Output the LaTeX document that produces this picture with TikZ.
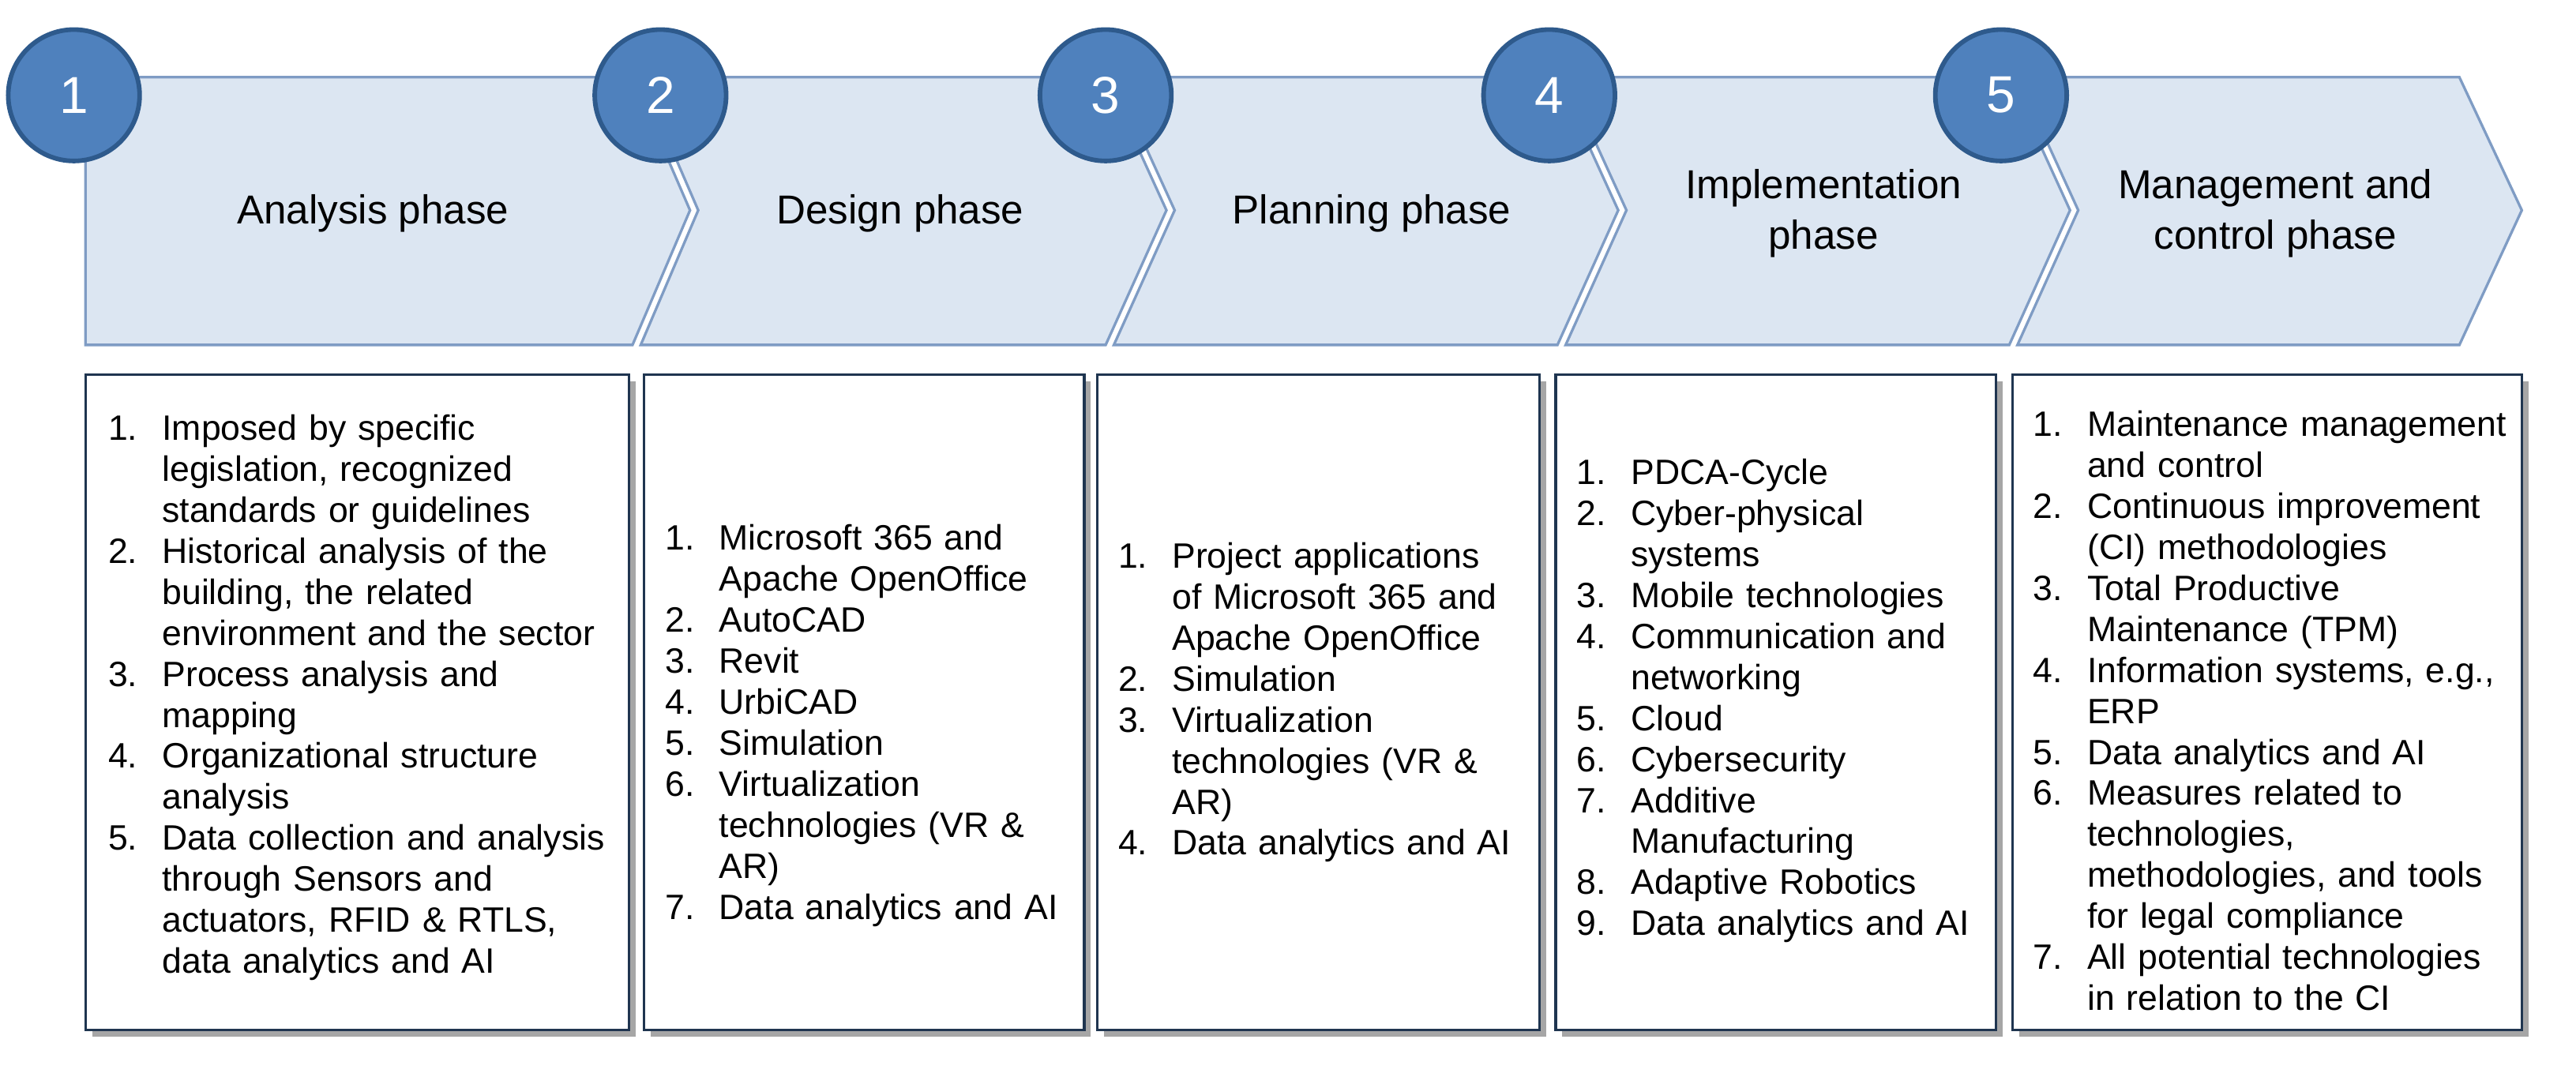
\documentclass[tikz,border=0pt]{standalone}
\usepackage{fontspec}
\setmainfont{Liberation Sans}
\usepackage{enumitem}
\setlist[enumerate]{nosep,leftmargin=0.72cm,labelsep=0.3cm}
\definecolor{chev}{HTML}{DCE6F2}
\definecolor{chevb}{HTML}{7F9CC4}
\definecolor{circ}{HTML}{4F81BD}
\definecolor{circb}{HTML}{2E5A8C}
\definecolor{boxb}{HTML}{1F3550}
\begin{document}
\begin{tikzpicture}[x=0.02cm,y=-0.02cm,
  chevron/.style={fill=chev,draw=chevb,line width=0.9pt},
  num/.style={circle,fill=circ,draw=circb,line width=1.6pt,minimum size=1.6cm,text=white,font=\fontsize{18}{20}\selectfont},
  box/.style={draw=boxb,line width=0.9pt,fill=white},
  title/.style={align=center,font=\fontsize{14}{17.5}\selectfont},
  lst/.style={font=\fontsize{12.2}{14.2}\selectfont,anchor=center}]
\useasboundingbox (0,0) rectangle (1568,653);
% chevrons
\draw[chevron] (52,47) -- (385,47) -- (420,128) -- (385,210) -- (52,210) -- cycle;
\draw[chevron] (390,47) -- (673,47) -- (710,128) -- (673,210) -- (390,210) -- (425,128) -- cycle;
\draw[chevron] (678,47) -- (948,47) -- (985,128) -- (948,210) -- (678,210) -- (715,128) -- cycle;
\draw[chevron] (953,47) -- (1223,47) -- (1260,128) -- (1223,210) -- (953,210) -- (990,128) -- cycle;
\draw[chevron] (1228,47) -- (1497,47) -- (1535,128) -- (1497,210) -- (1228,210) -- (1265,128) -- cycle;
\node[title] (t1) at (227,130) {Analysis phase};
\node[title] (t2) at (548,130) {Design phase};
\node[title] (t3) at (835,130) {Planning phase};
\node[title] (t4) at (1110,130) {Implementation\\phase};
\node[title] (t5) at (1385,130) {Management and\\control phase};
\node[num] (n1) at (45,58) {1};
\node[num] (n2) at (402,58) {2};
\node[num] (n3) at (673,58) {3};
\node[num] (n4) at (943,58) {4};
\node[num] (n5) at (1218,58) {5};
% boxes
\fill[black!35] (56,232) rectangle (387,631);
\draw[box] (52,228) rectangle (383,627);
\fill[black!35] (396,232) rectangle (664,631);
\draw[box] (392,228) rectangle (660,627);
\fill[black!35] (672,232) rectangle (941,631);
\draw[box] (668,228) rectangle (937,627);
\fill[black!35] (951,232) rectangle (1219,631);
\draw[box] (947,228) rectangle (1215,627);
\fill[black!35] (1229,232) rectangle (1539,631);
\draw[box] (1225,228) rectangle (1535,627);
\node[lst,text width=6.25cm] (b1) at (219,420) {\begin{enumerate}
\item Imposed by specific legislation, recognized standards or guidelines
\item Historical analysis of the building, the related environment and the sector
\item Process analysis and mapping
\item Organizational structure analysis
\item Data collection and analysis through Sensors and actuators, RFID \& RTLS, data analytics and AI
\end{enumerate}};
\node[lst,text width=5.05cm] (b2) at (528,437) {\begin{enumerate}
\item Microsoft 365 and Apache OpenOffice
\item AutoCAD
\item Revit
\item UrbiCAD
\item Simulation
\item Virtualization technologies (VR \& AR)
\item Data analytics and AI
\end{enumerate}};
\node[lst,text width=4.9cm] (b3) at (800,423) {\begin{enumerate}
\item Project applications of Microsoft 365 and Apache OpenOffice
\item Simulation
\item Virtualization technologies (VR \& AR)
\item Data analytics and AI
\end{enumerate}};
\node[lst,text width=5.05cm] (b4) at (1083,422) {\begin{enumerate}
\item PDCA-Cycle
\item Cyber-physical systems
\item Mobile technologies
\item Communication and networking
\item Cloud
\item Cybersecurity
\item Additive Manufacturing
\item Adaptive Robotics
\item Data analytics and AI
\end{enumerate}};
\node[lst,text width=5.9cm] (b5) at (1382,428) {\begin{enumerate}
\item Maintenance management and control
\item Continuous improvement (CI) methodologies
\item Total Productive Maintenance (TPM)
\item Information systems, e.g., ERP
\item Data analytics and AI
\item Measures related to technologies, methodologies, and tools for legal compliance
\item All potential technologies in relation to the CI
\end{enumerate}};
\end{tikzpicture}
\end{document}
